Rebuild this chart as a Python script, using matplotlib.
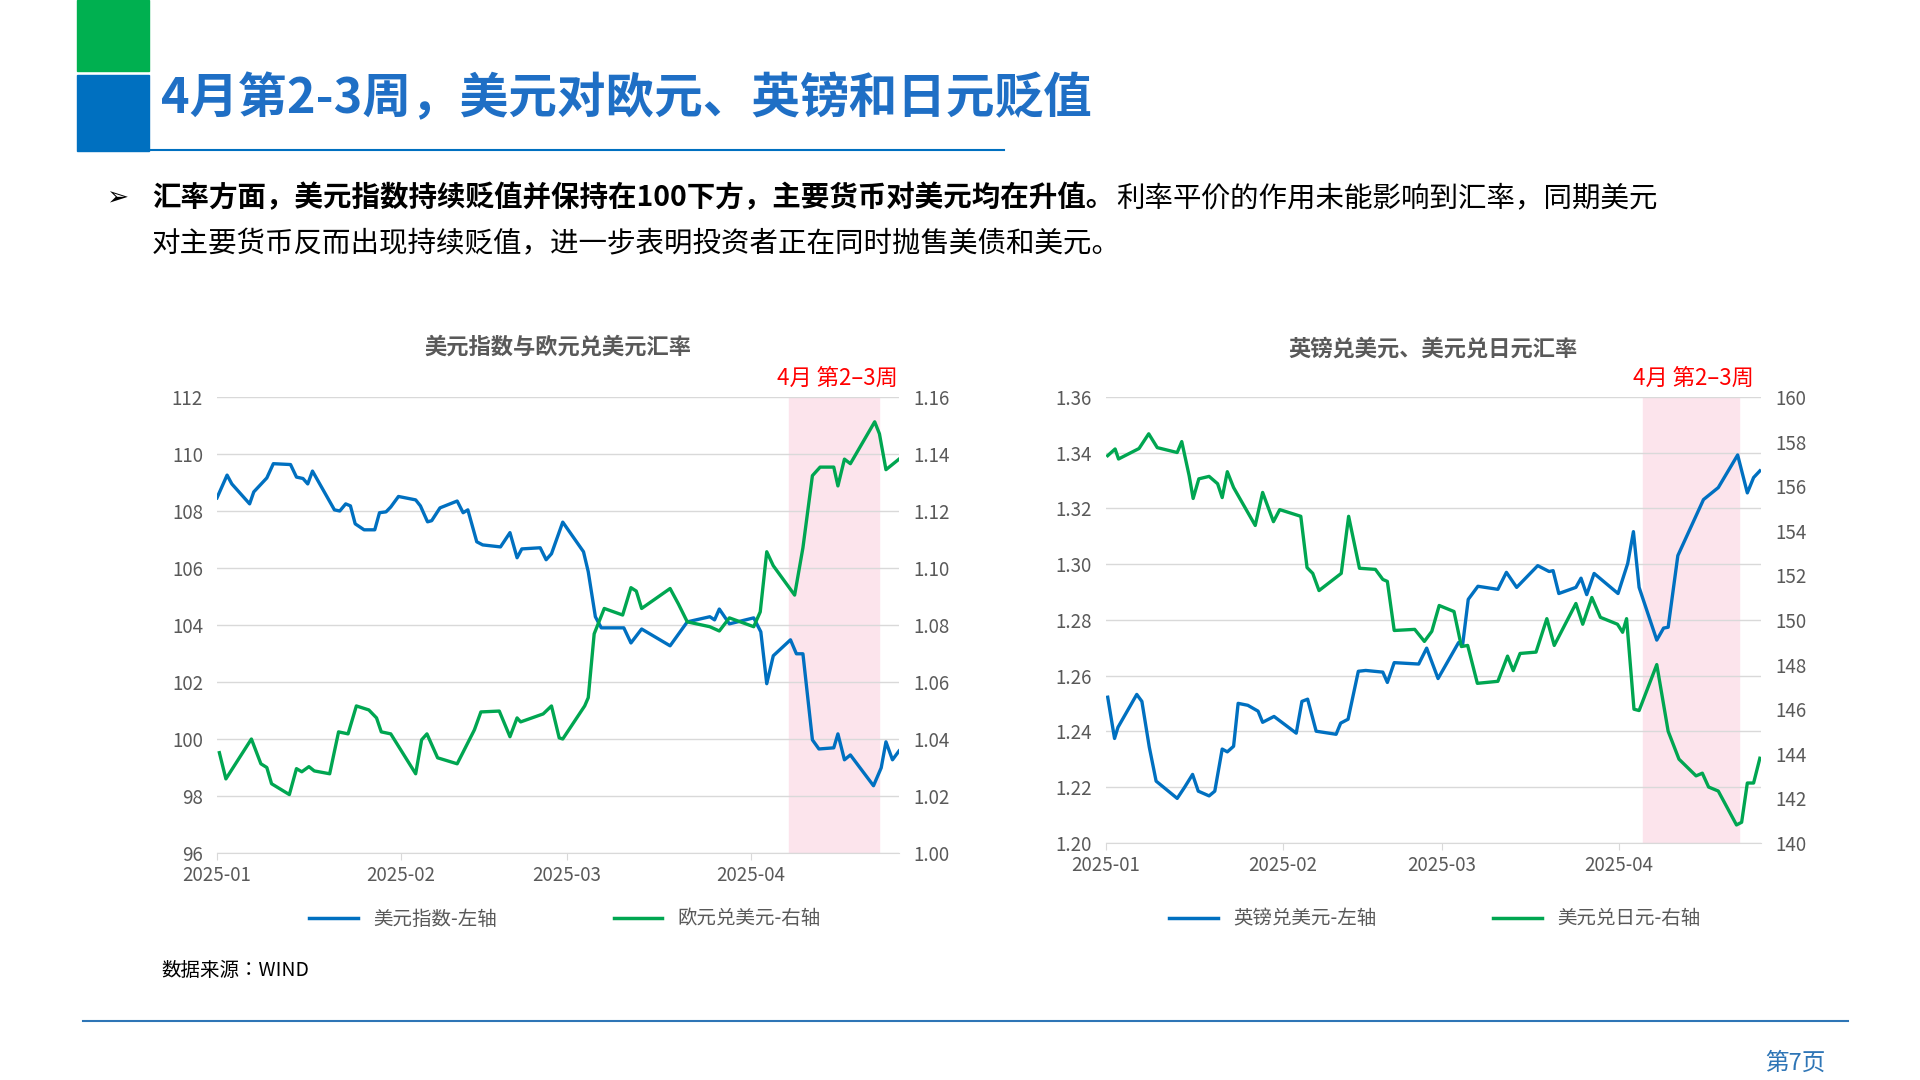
import matplotlib
matplotlib.use("Agg")
import matplotlib.pyplot as plt
from matplotlib import font_manager as fm
from matplotlib.patches import Rectangle
from matplotlib.lines import Line2D

cjk = [f.name for f in fm.fontManager.ttflist if "CJK" in f.name]
cjk_name = next((n for n in cjk if n.endswith("SC")), cjk[0] if cjk else "DejaVu Sans")
plt.rcParams["font.family"] = [cjk_name, "DejaVu Sans"]

BLUE = "#0070c0"
GREEN = "#00a651"
GRAY = "#595959"

# days since 2025-01-01
dxy_day = [0, 1.7, 2.5, 5.5, 6.2, 8.4, 9.5, 12.4, 13.4, 14.5, 15.3, 16.1, 19.8, 20.7, 21.7, 22.5,
           23.3, 24.8, 26.6, 27.4, 28.5, 29.3, 30.6, 33.5, 34.3, 35.5, 36.2, 37.6, 40.5, 41.5, 42.3,
           43.8, 44.8, 47.8, 49.4, 50.6, 51.4, 54.5, 55.5, 56.4, 58.3, 61.8, 62.6, 63.8, 64.8, 68.6,
           69.8, 71.6, 76.4, 79.3, 83.1, 83.9, 84.7, 86.4, 90.5, 91.7, 92.7, 93.8, 96.7, 97.7, 98.8,
           100.4, 101.5, 104, 104.7, 105.8, 106.8, 110.7, 112, 112.8, 113.9, 115]
dxy_val = [108.46, 109.26, 108.95, 108.25, 108.67, 109.16, 109.66, 109.63, 109.19, 109.14, 108.95,
           109.40, 108.04, 108.0, 108.25, 108.18, 107.55, 107.34, 107.34, 107.94, 107.97, 108.14,
           108.51, 108.39, 108.18, 107.62, 107.66, 108.11, 108.35, 107.94, 108.04, 106.92, 106.81,
           106.74, 107.24, 106.36, 106.67, 106.71, 106.29, 106.50, 107.61, 106.57, 105.87, 104.29,
           103.90, 103.90, 103.37, 103.86, 103.27, 104.11, 104.29, 104.18, 104.56, 104.04, 104.25,
           103.76, 101.94, 102.92, 103.48, 102.99, 102.99, 99.97, 99.65, 99.69, 100.18, 99.27, 99.44,
           98.36, 98.99, 99.90, 99.27, 99.58]

eur_day = [0.4, 1.5, 5.8, 7.4, 8.4, 9.2, 12.2, 13.4, 14.3, 15.5, 16.4, 19, 20.5, 22.1, 23.5, 25.6,
           26.9, 27.7, 29.3, 33.5, 34.5, 35.4, 37.2, 40.5, 43.4, 44.5, 47.6, 49.4, 50.6, 51.2, 55,
           56.4, 57.7, 58.3, 62, 62.6, 63.6, 65.3, 68.4, 69.8, 70.7, 71.6, 76.4, 77.8, 79.3, 83.1,
           84.7, 86.4, 90.5, 91.6, 92.7, 93.8, 97.4, 98.8, 100.4, 101.7, 104, 104.7, 105.8, 106.8,
           110.9, 111.7, 112.8, 115]
eur_val = [1.0352, 1.026, 1.040, 1.0313, 1.030, 1.0243, 1.0205, 1.0296, 1.0285, 1.0303, 1.0288,
           1.0278, 1.0425, 1.0418, 1.0516, 1.0502, 1.0474, 1.0425, 1.0418, 1.0278, 1.0397, 1.0418,
           1.0334, 1.0313, 1.0432, 1.0495, 1.0498, 1.0408, 1.0474, 1.046, 1.0488, 1.0516, 1.0404,
           1.040, 1.0516, 1.0545, 1.0769, 1.0858, 1.0835, 1.0931, 1.0919, 1.0858, 1.0928, 1.0874,
           1.0811, 1.0794, 1.0779, 1.0825, 1.0794, 1.0846, 1.1057, 1.1008, 1.0905, 1.1071, 1.1324,
           1.1354, 1.1354, 1.1288, 1.1382, 1.1366, 1.1513, 1.1471, 1.1345, 1.1382]

gbp_day = [0.3, 1.5, 2.1, 5.4, 6.3, 7.6, 8.8, 12.5, 13.8, 15.2, 16.2, 18.1, 19.1, 20.4, 21.3, 22.4,
           23.2, 24.9, 26.7, 27.5, 29.5, 33.4, 34.4, 35.4, 36.9, 40.4, 41.2, 42.5, 44.3, 45.6, 48.6,
           49.4, 50.6, 54.9, 56.3, 58.3, 61.9, 62.6, 63.6, 65.3, 68.8, 70.3, 72.1, 75.8, 77.8, 78.5,
           79.5, 82.5, 83.4, 84.4, 85.7, 89.9, 91.6, 92.6, 93.6, 96.7, 97.9, 98.7, 100.4, 104.9,
           107.5, 110.9, 112.6, 113.7, 114.8]
gbp_val = [1.2523, 1.2375, 1.2415, 1.2533, 1.2508, 1.2344, 1.2222, 1.2160, 1.2200, 1.2246, 1.2186,
           1.2169, 1.2186, 1.2337, 1.2327, 1.2347, 1.2501, 1.2494, 1.2473, 1.2433, 1.2454, 1.2394,
           1.2508, 1.2516, 1.2401, 1.2390, 1.2430, 1.2444, 1.2616, 1.2619, 1.2613, 1.2576, 1.2647,
           1.2642, 1.2699, 1.2590, 1.2719, 1.2709, 1.2874, 1.2921, 1.2910, 1.2971, 1.2917, 1.2995,
           1.2974, 1.2977, 1.2895, 1.2917, 1.2950, 1.2891, 1.2967, 1.2895, 1.3003, 1.3117, 1.2917,
           1.2728, 1.2771, 1.2774, 1.3031, 1.3232, 1.3275, 1.3392, 1.3256, 1.3311, 1.3335]

jpy_day = [0.3, 1.6, 2.2, 5.8, 7.5, 9.0, 12.5, 13.3, 14.6, 15.3, 16.3, 18.1, 19.6, 20.4, 21.3, 22.4,
           26.2, 27.5, 29.4, 30.5, 34.2, 35.3, 36.3, 37.4, 41.3, 42.6, 44.5, 47.3, 48.6, 49.4, 50.6,
           54.2, 55.9, 57.2, 58.5, 61.1, 62.4, 63.5, 65.2, 68.8, 70.5, 71.5, 72.7, 75.5, 77.4, 78.7,
           82.5, 83.7, 85.3, 86.8, 89.8, 90.7, 91.4, 92.7, 93.6, 96.7, 98.7, 100.6, 103.6, 104.7,
           105.8, 107.5, 110.7, 111.6, 112.6, 113.7, 114.8]
jpy_val = [157.37, 157.67, 157.22, 157.69, 158.35, 157.73, 157.51, 158.0, 156.47, 155.45, 156.33,
           156.44, 156.11, 155.49, 156.65, 155.94, 154.24, 155.72, 154.41, 154.95, 154.65, 152.35,
           152.09, 151.32, 152.09, 154.65, 152.32, 152.27, 151.82, 151.73, 149.53, 149.58, 149.04,
           149.49, 150.65, 150.38, 148.81, 148.86, 147.16, 147.25, 148.38, 147.73, 148.5, 148.56,
           150.06, 148.86, 150.74, 149.81, 151.01, 150.12, 149.81, 149.45, 150.06, 146.0, 145.94,
           148.0, 145.01, 143.76, 143.01, 143.13, 142.51, 142.33, 140.81, 140.93, 142.69, 142.69,
           143.8]

month_ticks = [0, 31, 59, 90]
month_labels = ["2025-01", "2025-02", "2025-03", "2025-04"]
shade_left = (96.4, 111.7)
shade_right = (94.3, 111.1)

W, H = 1920, 1080
fig = plt.figure(figsize=(19.2, 10.8), dpi=100)


def px(x, y, w, h):
    return [x / W, 1 - (y + h) / H, w / W, h / H]


# header decoration
deco = fig.add_axes([0, 0, 1, 1])
deco.set_xlim(0, W)
deco.set_ylim(H, 0)
deco.axis("off")
deco.add_patch(Rectangle((77, 0), 72, 71, color="#00b050"))
deco.add_patch(Rectangle((77, 75), 72, 76, color="#0070c0"))
deco.plot([149, 1004], [150, 150], color="#0070c0", lw=1.5)
deco.plot([83, 1848], [1021, 1021], color="#2e75b6", lw=1.5)
deco.text(161, 99, "4月第2-3周，美元对欧元、英镑和日元贬值", fontsize=35, fontweight="bold",
          color="#1f6fc5", va="center")
deco.text(106, 198, "➢", fontsize=19, va="center", fontfamily="DejaVu Sans")
bold_part = deco.text(152, 198, "汇率方面，美元指数持续贬值并保持在100下方，主要货币对美元均在升值。",
                      fontsize=20.5, fontweight="bold", va="center")
fig.canvas.draw()
bb = bold_part.get_window_extent(renderer=fig.canvas.get_renderer())
deco.text(bb.x1 + 2, 198, "利率平价的作用未能影响到汇率，同期美元", fontsize=20.5, va="center",
          transform=matplotlib.transforms.blended_transform_factory(
              matplotlib.transforms.IdentityTransform(), deco.transData))
deco.text(152, 244, "对主要货币反而出现持续贬值，进一步表明投资者正在同时抛售美债和美元。",
          fontsize=20.5, va="center")
deco.text(161, 970, "数据来源：WIND", fontsize=14, va="center")
deco.text(1826, 1063, "第7页", fontsize=17, color="#2e75b6", va="center", ha="right")


def make_chart(rect, title, d1, v1, d2, v2, ylim1, yt1, fmt1, ylim2, yt2, fmt2, shade, names,
               title_y, leg_y, leg_x):
    ax = fig.add_axes(px(*rect))
    ax2 = ax.twinx()
    ax.axvspan(shade[0], shade[1], color="#fce4ec", zorder=0)
    ax.plot(d1, v1, color=BLUE, lw=2.4, zorder=3)
    ax2.plot(d2, v2, color=GREEN, lw=2.4, zorder=3)
    ax.set_xlim(0, 115)
    ax.set_ylim(*ylim1)
    ax2.set_ylim(*ylim2)
    ax.set_yticks(yt1)
    ax2.set_yticks(yt2)
    ax.set_yticklabels([fmt1.format(v) for v in yt1])
    ax2.set_yticklabels([fmt2.format(v) for v in yt2])
    ax.set_xticks(month_ticks)
    ax.set_xticklabels(month_labels)
    ax.grid(axis="y", color="#d9d9d9", lw=1)
    for a in (ax, ax2):
        for s in a.spines.values():
            s.set_visible(False)
        a.tick_params(axis="y", length=0, labelsize=13.5, labelcolor=GRAY, pad=10)
    ax.spines["bottom"].set_visible(True)
    ax.spines["bottom"].set_color("#d9d9d9")
    ax.tick_params(axis="x", length=5, color="#d9d9d9", labelsize=13.5, labelcolor=GRAY)
    ax.text((shade[0] + shade[1]) / 2 + 0.5, ylim1[1] + (ylim1[1] - ylim1[0]) * 0.015,
            "4月 第2–3周", color="red", fontsize=16, ha="center", va="bottom")
    fig.text((rect[0] + rect[2] / 2) / W, 1 - title_y / H, title, fontsize=16, fontweight="bold",
             color=GRAY, ha="center", va="center")
    handles = [Line2D([], [], color=BLUE, lw=2.5), Line2D([], [], color=GREEN, lw=2.5)]
    fig.legend(handles, names, loc="center", bbox_to_anchor=(leg_x / W, 1 - leg_y / H), ncol=2,
               frameon=False, fontsize=14, labelcolor=GRAY, columnspacing=6, handlelength=2.5)


make_chart((217, 397, 682, 456), "美元指数与欧元兑美元汇率", dxy_day, dxy_val, eur_day, eur_val,
           (96, 112), [96, 98, 100, 102, 104, 106, 108, 110, 112], "{:.0f}",
           (1.00, 1.16), [1.00, 1.02, 1.04, 1.06, 1.08, 1.10, 1.12, 1.14, 1.16], "{:.2f}",
           shade_left, ["美元指数-左轴", "欧元兑美元-右轴"], 347, 919, 565)
make_chart((1106, 397, 655, 446), "英镑兑美元、美元兑日元汇率", gbp_day, gbp_val, jpy_day, jpy_val,
           (1.20, 1.36), [1.20, 1.22, 1.24, 1.26, 1.28, 1.30, 1.32, 1.34, 1.36], "{:.2f}",
           (140, 160), [140, 142, 144, 146, 148, 150, 152, 154, 156, 158, 160], "{:.0f}",
           shade_right, ["英镑兑美元-左轴", "美元兑日元-右轴"], 349, 919, 1435)

fig.savefig("out.png", dpi=100)
